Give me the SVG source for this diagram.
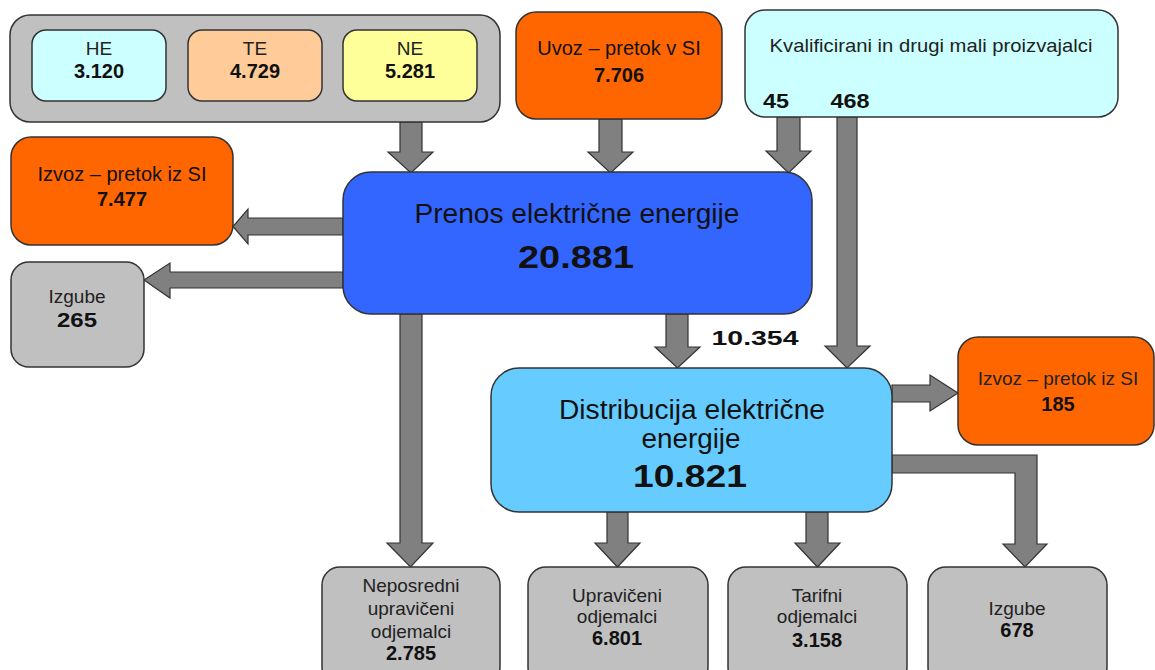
<svg xmlns="http://www.w3.org/2000/svg" width="1155" height="670" viewBox="0 0 1155 670">
<style>
.bx{stroke:#333;stroke-width:1.5}
.gray{fill:#C0C0C0}
.org{fill:#FF6600}
.cyan{fill:#CCFFFF}
.ar{fill:#808080;stroke:#333;stroke-width:1.2;stroke-linejoin:miter}
text{font-family:"Liberation Sans",Arial,sans-serif;fill:#111;text-anchor:middle}
.l{font-size:20px}
.s{font-size:19px;fill:#222}
.b{font-size:20px;font-weight:bold}
.t{font-size:27px}
.big{font-size:31px;font-weight:bold}
</style>
<rect width="1155" height="670" fill="#fff"/>
<g id="connectors">
<polygon class="ar" points="400,122 422,122 422,152 433,152 411,173 388,152 400,152"/>
<polygon class="ar" points="599,119 622,119 622,152 633,152 610.5,173 588,152 599,152"/>
<polygon class="ar" points="777,117 800,117 800,151 811,151 788.5,173 766,151 777,151"/>
<polygon class="ar" points="837,117 857,117 857,346 870,346 847,368 825,346 837,346"/>
<polygon class="ar" points="343,218 248,218 248,209 233,226.5 248,244 248,235 343,235"/>
<polygon class="ar" points="343,272 170,272 170,263 144,280 170,298 170,288 343,288"/>
<polygon class="ar" points="400,314 422,314 422,543 433,543 410.5,567 387,543 400,543"/>
<polygon class="ar" points="666,314 688,314 688,347 700,347 677.5,368 655,347 666,347"/>
<polygon class="ar" points="892,385 930,385 930,375 958,393 930,411 930,402 892,402"/>
<polygon class="ar" points="892,455 1037,455 1037,544 1047,544 1025,567 1003,544 1015,544 1015,473 892,473"/>
<polygon class="ar" points="607,512 628,512 628,543 640,543 617.5,567 595,543 607,543"/>
<polygon class="ar" points="806,512 828,512 828,543 840,543 817.5,567 795,543 806,543"/>
</g>
<g id="proizvodnja">
<rect class="bx gray" x="10" y="15" width="490" height="107" rx="20"/>
</g>
<g id="he">
<rect class="bx" fill="#CCFFFF" x="32" y="30" width="134" height="71" rx="14"/>
<text class="s" x="99" y="55">HE</text>
<text class="b" x="99" y="78">3.120</text>
</g>
<g id="te">
<rect class="bx" fill="#FFCC99" x="188" y="30" width="134" height="71" rx="14"/>
<text class="s" x="255" y="55">TE</text>
<text class="b" x="255" y="78">4.729</text>
</g>
<g id="ne">
<rect class="bx" fill="#FFFF99" x="343" y="30" width="134" height="71" rx="14"/>
<text class="s" x="410" y="55">NE</text>
<text class="b" x="410" y="78">5.281</text>
</g>
<g id="uvoz">
<rect class="bx org" x="516" y="12" width="206" height="107" rx="20"/>
<text class="l" x="619" y="55">Uvoz – pretok v SI</text>
<text class="b" x="619" y="82">7.706</text>
</g>
<g id="kvalificirani">
<rect class="bx cyan" x="745" y="10" width="373" height="107" rx="20"/>
<text class="s" x="931" y="52" textLength="323" lengthAdjust="spacingAndGlyphs">Kvalificirani in drugi mali proizvajalci</text>
<text class="b" x="776" y="108" font-size="21" textLength="26" lengthAdjust="spacingAndGlyphs">45</text>
<text class="b" x="850" y="108" font-size="21" textLength="39" lengthAdjust="spacingAndGlyphs">468</text>
</g>
<g id="izvoz1">
<rect class="bx org" x="11" y="137" width="222" height="108" rx="20"/>
<text class="l" x="122" y="181">Izvoz – pretok iz SI</text>
<text class="b" x="122" y="206">7.477</text>
</g>
<g id="izgube1">
<rect class="bx gray" x="11" y="262" width="133" height="105" rx="18"/>
<text class="s" x="77" y="303">Izgube</text>
<text class="b" x="77" y="327" textLength="40" lengthAdjust="spacingAndGlyphs">265</text>
</g>
<g id="prenos">
<rect class="bx" fill="#3366FF" x="343" y="172" width="469" height="142" rx="28"/>
<text class="t" x="577" y="223" textLength="325" lengthAdjust="spacingAndGlyphs">Prenos električne energije</text>
<text class="big" x="576" y="268" textLength="116" lengthAdjust="spacingAndGlyphs">20.881</text>
</g>
<text class="b" x="755" y="345" font-size="21" textLength="87" lengthAdjust="spacingAndGlyphs">10.354</text>
<g id="distribucija">
<rect class="bx" fill="#66CCFF" x="491" y="368" width="401" height="144" rx="28"/>
<text class="t" x="692" y="419" textLength="266" lengthAdjust="spacingAndGlyphs">Distribucija električne</text>
<text class="t" x="691" y="448" textLength="99" lengthAdjust="spacingAndGlyphs">energije</text>
<text class="big" x="690" y="487" textLength="114" lengthAdjust="spacingAndGlyphs">10.821</text>
</g>
<g id="izvoz2">
<rect class="bx org" x="958" y="337" width="196" height="108" rx="20"/>
<text class="s" x="1058" y="385">Izvoz – pretok iz SI</text>
<text class="b" x="1058" y="411">185</text>
</g>
<g id="neposredni">
<rect class="bx gray" x="322" y="567" width="178" height="118" rx="18"/>
<text class="s" x="411" y="592">Neposredni</text>
<text class="s" x="411" y="615">upravičeni</text>
<text class="s" x="411" y="638">odjemalci</text>
<text class="b" x="411" y="660">2.785</text>
</g>
<g id="upraviceni">
<rect class="bx gray" x="528" y="567" width="180" height="118" rx="18"/>
<text class="s" x="617" y="602">Upravičeni</text>
<text class="s" x="617" y="623">odjemalci</text>
<text class="b" x="617" y="645">6.801</text>
</g>
<g id="tarifni">
<rect class="bx gray" x="728" y="567" width="179" height="118" rx="18"/>
<text class="s" x="817" y="602">Tarifni</text>
<text class="s" x="817" y="623">odjemalci</text>
<text class="b" x="817" y="647">3.158</text>
</g>
<g id="izgube2">
<rect class="bx gray" x="928" y="567" width="179" height="118" rx="18"/>
<text class="s" x="1017" y="615">Izgube</text>
<text class="b" x="1017" y="637">678</text>
</g>
</svg>
